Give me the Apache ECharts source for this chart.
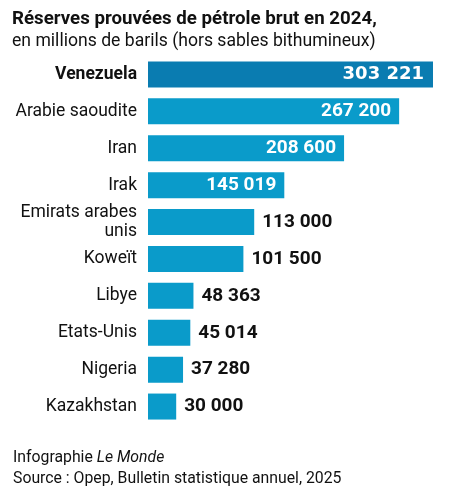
<!DOCTYPE html>
<html>
<head>
<meta charset="utf-8">
<script src="https://cdn.jsdelivr.net/npm/echarts@6/dist/echarts.min.js"></script>
<style>
  html, body { margin: 0; padding: 0; background: #fff; }
  #chart { width: 455px; height: 499px; }
</style>
</head>
<body>
<div id="chart"></div>
<script>
// données : réserves prouvées de pétrole brut 2024 (millions de barils)
const countries = ['Venezuela', 'Arabie saoudite', 'Iran', 'Irak', 'Emirats arabes\nunis',
    'Koweït', 'Libye', 'Etats-Unis', 'Nigeria', 'Kazakhstan'];
const reserves = [303221, 267200, 208600, 145019, 113000, 101500, 48363, 45014, 37280, 30000];
const highlight = 'Venezuela';

const FONT = 'Roboto';
const fmt = v => String(v).replace(/\B(?=(\d{3})+(?!\d))/g, ' ');

const chart = echarts.init(document.getElementById('chart'));

const seriesData = reserves.map(function (v, i) {
    const big = v > 140000;
    const hl = countries[i] === highlight;
    const label = big
        ? { position: 'insideRight', distance: 8, color: '#fff' }
        : { position: 'right', distance: 8, color: '#111' };
    if (hl) {
        // chiffre mis en avant, plus large et plus gras
        label.fontFamily = '"DejaVu Sans"';
        label.fontSize = 18;
        label.distance = 9;
    }
    return {
        value: v,
        itemStyle: { color: hl ? '#0a7cb1' : '#0a9bca' },
        label: label
    };
});

const option = {
    backgroundColor: '#fff',
    animation: false,
    title: {
        left: 7,
        top: 5,
        text: 'Réserves prouvées de pétrole brut en 2024,',
        subtext: 'en millions de barils (hors sables bithumineux)',
        itemGap: 4,
        textStyle: { fontFamily: FONT, fontWeight: 'bold', fontSize: 18.7, color: '#111' },
        subtextStyle: { fontFamily: FONT, fontSize: 17.6, color: '#111' }
    },
    grid: { left: 148, right: 22, top: 56, height: 369, containLabel: false },
    xAxis: {
        type: 'value',
        min: 0,
        max: 303221,
        show: false
    },
    yAxis: {
        type: 'category',
        inverse: true,
        data: countries,
        axisLine: { show: false },
        axisTick: { show: false },
        splitLine: { show: false },
        axisLabel: {
            margin: 11,
            fontFamily: FONT,
            fontSize: 17.5,
            lineHeight: 19,
            color: '#111',
            formatter: function (v) {
                return v === highlight ? '{b|' + v + '}' : v;
            },
            rich: {
                b: { fontFamily: FONT, fontSize: 17.5, fontWeight: 'bold', color: '#111' }
            }
        }
    },
    series: [{
        type: 'bar',
        barWidth: 26,
        data: seriesData,
        label: {
            show: true,
            fontFamily: FONT,
            fontWeight: 'bold',
            fontSize: 19,
            formatter: p => fmt(p.value)
        }
    }],
    graphic: [{
        type: 'text',
        left: 13,
        top: 450,
        style: {
            text: 'Infographie {i|Le Monde}',
            font: '15.8px ' + FONT,
            fill: '#111',
            rich: { i: { fontStyle: 'italic', fontFamily: FONT, fontSize: 15.8, fill: '#111' } }
        }
    }, {
        type: 'text',
        left: 13,
        top: 471,
        style: {
            text: 'Source : Opep, Bulletin statistique annuel, 2025',
            font: '15.8px ' + FONT,
            fill: '#111'
        }
    }]
};

chart.setOption(option);
</script>
</body>
</html>
